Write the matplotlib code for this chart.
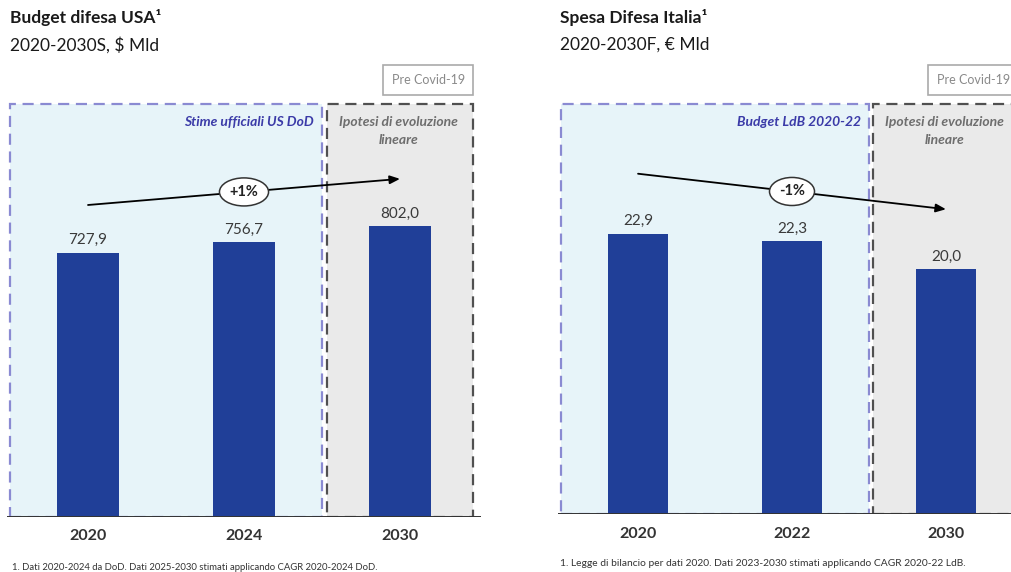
import matplotlib.pyplot as plt
from matplotlib.patches import Rectangle

plt.rcParams["font.family"] = ["Lato", "DejaVu Sans"]

# USA defence budget, $ bn
usa_years = ["2020", "2024", "2030"]
usa_values = [727.9, 756.7, 802.0]
usa_cagr = "+1%"

# Italian defence spending, € bn
ita_years = ["2020", "2022", "2030"]
ita_values = [22.9, 22.3, 20.0]
ita_cagr = "-1%"

BAR_BLUE = "#203F98"
REGION_BLUE = "#E7F4F9"
EDGE_BLUE = "#8A8AD2"
TEXT_BLUE = "#3B3BA8"
REGION_GRAY = "#EAEAEA"
EDGE_GRAY = "#505050"
TEXT_GRAY = "#6E6E6E"

W, H = 1011, 572
fig = plt.figure(figsize=(W / 100, H / 100), dpi=100)


def px_axes(left, right, top, bottom):
    """Axes placed by pixel edges (origin top-left)."""
    return fig.add_axes([left / W, 1 - bottom / H, (right - left) / W, (bottom - top) / H])


def draw_panel(ax, years, values, base, scale, cagr, region_label,
               arrow_from, arrow_to):
    """base: baseline pixel row, scale: pixels per unit; y positions given in px."""
    def py(p):
        return (base - p) / scale

    n = len(values)
    ax.set_xlim(-0.52, n - 0.48)
    ax.set_ylim(0, py(60))
    ax.axis("off")

    # shaded regions: official estimates and linear projection
    top = py(104)
    ax.add_patch(Rectangle((-0.503, 0), 2.006, top, fc=REGION_BLUE, ec=EDGE_BLUE,
                           lw=1.6, ls=(0, (5, 3)), zorder=0))
    ax.add_patch(Rectangle((1.529, 0), 0.94, top, fc=REGION_GRAY, ec=EDGE_GRAY,
                           lw=1.6, ls=(0, (5, 3)), zorder=0))
    ax.plot([-0.52, n - 0.48], [0, 0], color="#333333", lw=1.4, zorder=3,
            solid_capstyle="butt")

    bars = ax.bar(range(n), values, width=0.394, color=BAR_BLUE, zorder=2)
    for b, v in zip(bars, values):
        ax.annotate(f"{v:.1f}".replace(".", ","),
                    (b.get_x() + b.get_width() / 2, v), xytext=(0, 4),
                    textcoords="offset points", ha="center", va="bottom",
                    fontsize=11, color="#3A3A3A")

    for i, y in enumerate(years):
        ax.annotate(y, (i, 0), xytext=(0, -9), textcoords="offset points",
                    ha="center", va="top", fontsize=11.5, fontweight="bold",
                    color="#333333")

    ax.text(1.445, py(122), region_label, ha="right", va="center", fontsize=10,
            fontweight="bold", style="italic", color=TEXT_BLUE)
    ax.text(1.99, py(122), "Ipotesi di evoluzione", ha="center", va="center",
            fontsize=10, fontweight="bold", style="italic", color=TEXT_GRAY)
    ax.text(1.99, py(140), "lineare", ha="center", va="center",
            fontsize=10, fontweight="bold", style="italic", color=TEXT_GRAY)

    ax.text(2.18, py(80), "Pre Covid-19", ha="center", va="center", fontsize=9,
            color="#8A8A8A",
            bbox=dict(boxstyle="square,pad=0.7", fc="white", ec="#AAAAAA", lw=1.2))

    ax.annotate("", xy=arrow_to, xytext=arrow_from,
                arrowprops=dict(arrowstyle="-|>,head_length=0.6,head_width=0.25",
                                color="black", lw=1.3, shrinkA=0, shrinkB=0), zorder=4)
    mx = (arrow_from[0] + arrow_to[0]) / 2
    my = (arrow_from[1] + arrow_to[1]) / 2
    ax.text(mx, my, cagr, ha="center", va="center", fontsize=10.5, fontweight="bold",
            color="#222222", zorder=5,
            bbox=dict(boxstyle="ellipse,pad=0.2", fc="white", ec="#333333", lw=1.1))


# left panel: baseline y=517, 0.3628 px per $bn
ax_l = px_axes(10 - 0.02 * 155, 478 + 0.02 * 155, 60, 517)
draw_panel(ax_l, usa_years, usa_values, 517, 0.3628, usa_cagr,
           "Stime ufficiali US DoD", (0, 860), (2.0, 932))

# right panel: baseline y=514, 12.24 px per €bn
ax_r = px_axes(558, 1026, 60, 514)
draw_panel(ax_r, ita_years, ita_values, 514, 12.24, ita_cagr,
           "Budget LdB 2020-22", (0, 27.8), (2.0, 24.9))

# titles
fig.text(10 / W, 1 - 18 / H, "Budget difesa USA¹", ha="left", va="center",
         fontsize=12.5, fontweight="bold", color="#1A1A1A")
fig.text(10 / W, 1 - 45 / H, "2020-2030S, $ Mld", ha="left", va="center",
         fontsize=12.5, color="#1A1A1A")
fig.text(560 / W, 1 - 18 / H, "Spesa Difesa Italia¹", ha="left", va="center",
         fontsize=12.5, fontweight="bold", color="#1A1A1A")
fig.text(560 / W, 1 - 45 / H, "2020-2030F, € Mld", ha="left", va="center",
         fontsize=12.5, color="#1A1A1A")

# footnotes
fig.text(12 / W, 1 - 567 / H,
         "1. Dati 2020-2024 da DoD. Dati 2025-2030 stimati applicando CAGR 2020-2024 DoD.",
         ha="left", va="center", fontsize=6.8, color="#333333")
fig.text(560 / W, 1 - 563 / H,
         "1. Legge di bilancio per dati 2020. Dati 2023-2030 stimati applicando CAGR 2020-22 LdB.",
         ha="left", va="center", fontsize=7.4, color="#333333")

fig.savefig("out.png", dpi=100)
